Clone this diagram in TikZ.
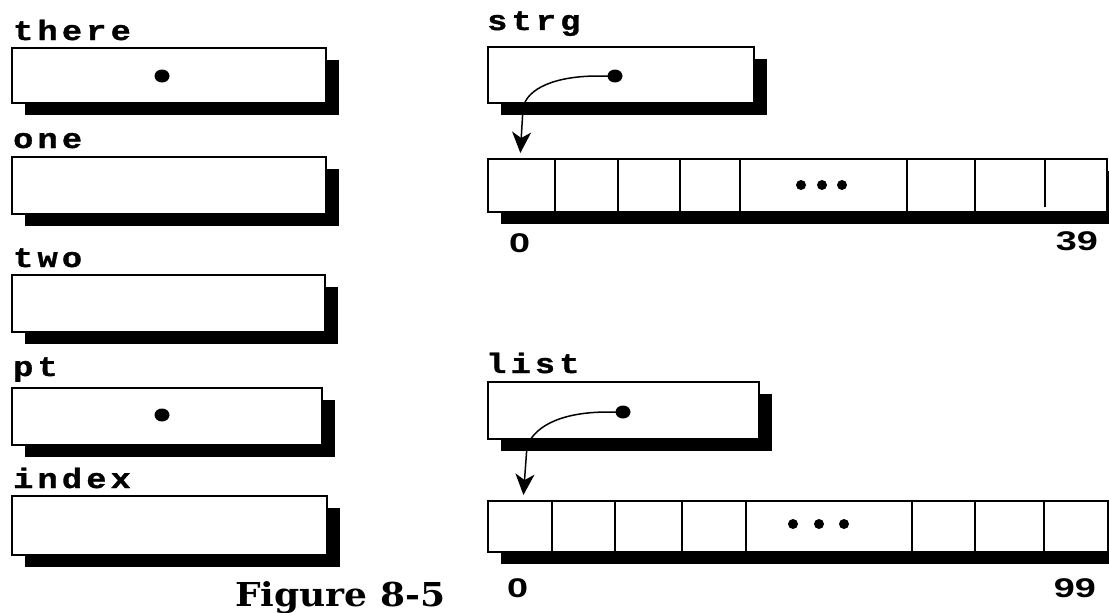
\documentclass[tikz,border=0pt]{standalone}
\usepackage{fontspec}
\usetikzlibrary{shadows,arrows.meta,shapes.geometric}
\newfontfamily\codefont[FakeStretch=1.2,LetterSpace=15,FakeBold=1.2]{Liberation Mono}
\newfontfamily\numfont[FakeStretch=1.4]{Liberation Sans}
\newfontfamily\capfont{DejaVu Serif}
\begin{document}
\begin{tikzpicture}[x=1pt,y=-1pt,
  varbox/.style={draw, line width=1.6pt, fill=white, inner sep=0pt, outer sep=0pt,
    anchor=north west,
    drop shadow={shadow xshift=13pt, shadow yshift=-12pt, fill=black, opacity=1}},
  varname/.style={anchor=base west, inner sep=0pt, font=\codefont\bfseries\fontsize{28}{28}\selectfont},
  index/.style={anchor=base west, inner sep=0pt, font=\numfont\bfseries\fontsize{27}{27}\selectfont},
  dot/.style={ellipse, fill=black, inner sep=0pt, minimum width=15pt, minimum height=13pt},
  etc/.style={circle, fill=black, inner sep=0pt, minimum size=10pt},
  divider/.style={line width=1.6pt},
  ptr/.style={line width=1.5pt, -{Stealth[length=21pt,width=19pt,inset=6pt]}}]
\useasboundingbox (0,0) rectangle (1109,613);

% left column of variables
\node[varname] (lthere) at (13,40) {there};
\node[varbox, minimum width=314pt, minimum height=55pt] (there) at (12,48) {};
\node[dot] (tdot) at (162,76) {};

\node[varname] (lone) at (13,148) {one};
\node[varbox, minimum width=314pt, minimum height=57pt] (one) at (12,157) {};

\node[varname] (ltwo) at (13,267) {two};
\node[varbox, minimum width=313pt, minimum height=57pt] (two) at (12,275) {};

\node[varname] (lpt) at (13,376) {pt};
\node[varbox, minimum width=310pt, minimum height=57pt] (pt) at (12,388) {};
\node[dot] (pdot) at (162,415) {};

\node[varname] (lindex) at (13,488) {index};
\node[varbox, minimum width=315pt, minimum height=59pt] (index) at (12,496) {};

% strg and its 40-element array
\node[varname] (lstrg) at (487,30) {strg};
\node[varbox, minimum width=266pt, minimum height=56pt] (strg) at (488,47) {};
\node[dot] (sdot) at (615,76) {};
\node[varbox, minimum width=619pt, minimum height=53pt] (sarr) at (488,159) {};
\foreach \xx in {555,618,680,740,907,975}
  \draw[divider] (\xx,159) -- (\xx,212);
\draw[divider] (1045,159) -- (1045,207);
\node[etc] (se1) at (801,185) {};
\node[etc] (se2) at (822,185) {};
\node[etc] (se3) at (842,185) {};
\coordinate (scell) at (520,159);
\node[index] (s0) at (509,252) {0};
\node[index, anchor=base east] (s39) at (1098,250) {39};
\draw[ptr, shorten >=6pt] (sdot.center) -- (598,76)
  .. controls (556,76) and (527,88) .. (523,108) -- (scell);

% list and its 100-element array
\node[varname] (llist) at (486,373) {list};
\node[varbox, minimum width=271pt, minimum height=57pt] (list) at (488,382) {};
\node[dot] (ldot) at (623,412) {};
\node[varbox, minimum width=620pt, minimum height=51pt] (larr) at (488,501) {};
\foreach \xx in {552,615,682,746,912,975,1044}
  \draw[divider] (\xx,501) -- (\xx,552);
\node[etc] (le1) at (793,524) {};
\node[etc] (le2) at (819,524) {};
\node[etc] (le3) at (844,524) {};
\coordinate (lcell) at (523,501);
\node[index] (l0) at (507,597) {0};
\node[index, anchor=base east] (l99) at (1096,597) {99};
\draw[ptr, shorten >=6pt] (ldot.center) -- (608,412)
  .. controls (565,412) and (536,424) .. (527,446) -- (lcell);

% caption
\node[anchor=base west, inner sep=0pt] (cap) at (235,606)
  {\resizebox{210pt}{25pt}{\capfont\bfseries Figure 8-5}};
\end{tikzpicture}
\end{document}
